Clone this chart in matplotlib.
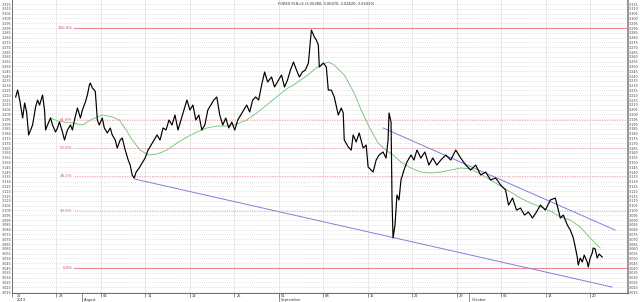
import matplotlib
matplotlib.use('Agg')
import matplotlib.pyplot as plt
import matplotlib.transforms as mtransforms
import numpy as np
import datetime as dt

# days counted from 2013-07-21 00:00
start_date = dt.date(2013, 7, 21)

day = [0.58, 0.89, 1.21, 1.68, 1.99, 2.30, 2.62, 2.93, 3.24, 3.71, 4.03, 4.34, 4.81, 5.12, 5.28,
       5.59, 6.06, 6.38, 6.85, 7.16, 7.47, 7.94, 8.26, 8.73, 9.20, 9.51, 9.83, 10.30, 10.77, 11.08,
       11.55, 11.86, 12.18, 12.33, 12.65, 12.96, 13.12, 13.43, 13.74, 14.21, 14.53, 15.00, 15.47,
       15.78, 16.25, 16.56, 17.03, 17.35, 17.82, 18.29, 18.60, 18.91, 19.23, 19.54, 20.01, 20.48,
       20.95, 21.42, 21.89, 22.36, 22.83, 23.30, 23.77, 24.24, 24.71, 25.18, 25.65, 26.12, 26.59,
       27.06, 27.53, 28.00, 28.47, 28.94, 29.41, 29.88, 30.35, 30.82, 31.29, 31.76, 32.23, 32.70,
       33.17, 33.64, 34.11, 34.59, 35.06, 35.53, 36.00, 36.47, 36.94, 37.41, 37.88, 38.35, 38.82,
       39.29, 39.76, 40.23, 40.85, 41.32, 41.95, 42.42, 42.89, 43.36, 43.83, 44.30, 44.77, 45.24,
       45.71, 46.18, 46.65, 47.12, 47.59, 47.90, 48.21, 48.37, 49.00, 49.47, 49.78, 50.25, 50.72,
       51.35, 51.82, 52.13, 52.29, 52.92, 53.39, 53.70, 54.17, 54.64, 55.27, 55.74, 56.05, 56.52,
       56.84, 57.31, 57.78, 58.40, 58.87, 59.19, 59.34, 59.66, 59.81, 59.97, 60.28, 60.59, 60.91,
       61.22, 61.69, 62.16, 62.79, 63.26, 63.73, 64.35, 64.98, 65.61, 66.23, 66.86, 67.49, 68.27,
       69.05, 69.84, 70.62, 71.41, 72.19, 72.98, 73.76, 74.54, 75.33, 76.11, 76.90, 77.68, 78.15,
       78.78, 79.41, 80.03, 80.66, 81.28, 81.91, 82.54, 83.16, 83.95, 84.73, 85.51, 85.98, 86.30,
       86.77, 87.40, 87.87, 88.18, 88.34, 88.65, 88.96, 89.12, 89.43, 89.75, 90.06, 90.53, 90.69,
       91.00, 91.32, 91.47, 91.79, 92.10, 92.41, 92.57, 92.88]

price = [3.2182, 3.2254, 3.2150, 3.1963, 3.2119, 3.2025, 3.1786, 3.1838, 3.1890, 3.2077, 3.2150,
         3.2098, 3.2202, 3.2046, 3.1838, 3.1890, 3.1963, 3.1890, 3.1817, 3.1859, 3.1921, 3.1817,
         3.1734, 3.1838, 3.1890, 3.1838, 3.1942, 3.2067, 3.1963, 3.2046, 3.2129, 3.2202, 3.2307,
         3.2327, 3.2275, 3.2254, 3.2234, 3.1942, 3.1890, 3.1963, 3.1859, 3.1807, 3.1859, 3.1786,
         3.1734, 3.1650, 3.1734, 3.1754, 3.1629, 3.1525, 3.1473, 3.1369, 3.1338, 3.1400, 3.1442,
         3.1494, 3.1546, 3.1629, 3.1681, 3.1734, 3.1786, 3.1734, 3.1859, 3.1838, 3.1942, 3.1890,
         3.1994, 3.1838, 3.1942, 3.2046, 3.2150, 3.2046, 3.2098, 3.1942, 3.1994, 3.1838, 3.1890,
         3.2046, 3.2098, 3.2150, 3.2182, 3.1994, 3.1890, 3.1963, 3.1859, 3.1921, 3.1838, 3.1942,
         3.1994, 3.2046, 3.2098, 3.2025, 3.2150, 3.2182, 3.2150, 3.2307, 3.2442, 3.2338, 3.2390,
         3.2286, 3.2359, 3.2411, 3.2286, 3.2359, 3.2463, 3.2546, 3.2463, 3.2390, 3.2442, 3.2463,
         3.2536, 3.2879, 3.2807, 3.2775, 3.2723, 3.2494, 3.2536, 3.2494, 3.2254, 3.2254, 3.2182,
         3.1994, 3.2067, 3.2015, 3.1734, 3.1661, 3.1629, 3.1786, 3.1713, 3.1807, 3.1650, 3.1681,
         3.1452, 3.1421, 3.1400, 3.1525, 3.1577, 3.1609, 3.1546, 3.1734, 3.2015, 3.1921, 3.1109,
         3.0713, 3.0848, 3.1161, 3.1109, 3.1317, 3.1421, 3.1504, 3.1577, 3.1525, 3.1629, 3.1546,
         3.1609, 3.1473, 3.1546, 3.1473, 3.1525, 3.1577, 3.1525, 3.1629, 3.1546, 3.1473, 3.1421,
         3.1473, 3.1369, 3.1400, 3.1317, 3.1338, 3.1265, 3.1213, 3.1056, 3.1129, 3.1004, 3.1025,
         3.0952, 3.0983, 3.0921, 3.0983, 3.1056, 3.1004, 3.1109, 3.1129, 3.1004, 3.0921, 3.0952,
         3.0848, 3.0796, 3.0744, 3.0713, 3.0619, 3.0515, 3.0431, 3.0504, 3.0463, 3.0535, 3.0463,
         3.0411, 3.0504, 3.0557, 3.0609, 3.0598, 3.0504, 3.0546, 3.0535, 3.0515]

ma_day = [6.06, 7.16, 8.26, 9.51, 11.08, 12.65, 14.21, 15.78, 16.88, 17.97, 18.91, 20.17, 21.42,
          22.83, 24.40, 25.97, 27.53, 29.10, 30.67, 32.23, 33.80, 35.37, 36.94, 38.50, 40.07,
          41.64, 43.20, 44.77, 46.34, 47.90, 49.00, 49.78, 50.72, 52.29, 53.86, 54.95, 56.21,
          57.62, 58.87, 59.97, 61.22, 62.79, 64.35, 65.92, 67.49, 69.05, 70.62, 72.19, 73.76,
          75.33, 76.90, 78.46, 80.03, 81.60, 83.16, 84.73, 86.30, 87.87, 89.43, 91.00, 92.57]
ma_price = [3.1963, 3.1932, 3.1921, 3.1911, 3.1890, 3.1952, 3.1994, 3.1973, 3.1942, 3.1838,
            3.1734, 3.1629, 3.1577, 3.1588, 3.1629, 3.1702, 3.1765, 3.1817, 3.1859, 3.1879,
            3.1879, 3.1900, 3.1942, 3.2015, 3.2098, 3.2182, 3.2265, 3.2327, 3.2400, 3.2484,
            3.2525, 3.2546, 3.2515, 3.2411, 3.2223, 3.2046, 3.1869, 3.1702, 3.1629, 3.1577,
            3.1504, 3.1442, 3.1400, 3.1390, 3.1400, 3.1421, 3.1442, 3.1432, 3.1379, 3.1317,
            3.1254, 3.1192, 3.1129, 3.1077, 3.1036, 3.0994, 3.0932, 3.0900, 3.0827, 3.0713,
            3.0609]

# trend lines (start, end)
lower_day = [19.23, 94.44]
lower_price = [3.1328, 3.0202]
upper_day = [58.40, 94.91]
upper_price = [3.1859, 3.0796]

# fibonacci retracement between low and high
fib_low = 3.040
fib_high = 3.290
fib_levels = [0.0, 23.6, 38.2, 50.0, 61.8, 100.0]
fib_start = 9.83

title = "FOREX PLN=X (3.05380, 3.06470, 3.04620, 3.05010)"

week_ticks = list(range(0, 92, 7))
month_starts = [11, 42, 72]
month_names = ['August', 'September', 'October']

fig = plt.figure(figsize=(6.4, 3.02), dpi=100)
ax = fig.add_axes([12/640, 9/302, 616/640, 293/302])
ax.set_xlim(0.42, 96.95)
ax.set_ylim(3.0140, 3.3192)

yt = np.arange(3.015, 3.3151, 0.005)
ax.set_yticks(yt)
ax.set_yticklabels(['%.3f' % v for v in yt], fontsize=2.4, color='#444444')
ax.tick_params(axis='y', which='both', left=True, right=True, labelleft=True, labelright=True,
               length=0, pad=0.8, labelcolor='#444444')
for v in yt:
    ax.axhline(v, color='#c8c8c8', lw=0.5, ls=(0, (1, 2)), zorder=0)

ax.set_xticks(week_ticks)
ax.set_xticklabels([])
ax.tick_params(axis='x', length=3, width=0.5, colors='#666666')
for d in week_ticks:
    ax.axvline(d, color='#e4e4e4', lw=0.6, zorder=0)

trans = mtransforms.blended_transform_factory(ax.transData, ax.transAxes)
for d in week_ticks:
    dd = max(d, 0.42)
    lbl = (start_date + dt.timedelta(days=d)).strftime('%d')
    ax.text(dd + 0.3, -0.0105, lbl, transform=trans, fontsize=2.6, ha='left', va='center',
            color='#333333', clip_on=False)
for d, name in zip(month_starts, month_names):
    ax.plot([d, d], [0, -0.03], transform=trans, color='#666666', lw=0.5, clip_on=False)
    ax.text(d + 0.3, -0.0245, name, transform=trans, fontsize=2.6, ha='left', va='center',
            color='#333333', clip_on=False)
ax.text(0.72, -0.0245, '2013', transform=trans, fontsize=2.6, ha='left', va='center',
        color='#333333', clip_on=False)

for lev in fib_levels:
    val = fib_low + (fib_high - fib_low) * lev / 100.0
    if lev in (0.0, 100.0):
        ax.plot([fib_start, 96.95], [val, val], color='#ee8595', lw=0.8, zorder=2)
    else:
        ax.plot([fib_start, 96.95], [val, val], color='#ee9aa6', lw=0.6,
                ls=(0, (1.5, 1.5)), zorder=2)
    ax.text(fib_start - 0.3, val, '%.1f%%' % lev, fontsize=2.8, color='#e05565',
            ha='right', va='center', zorder=3)

ax.plot(lower_day, lower_price, color='#8080e0', lw=0.7, zorder=3)
ax.plot(upper_day, upper_price, color='#8080e0', lw=0.7, zorder=3)
ax.plot(ma_day, ma_price, color='#70c070', lw=0.6, zorder=4)
ax.plot(day, price, color='black', lw=0.85, zorder=5)

ax.spines['top'].set_visible(False)
ax.spines['left'].set_color('#555555')
ax.spines['left'].set_linewidth(0.6)
ax.spines['right'].set_color('#999999')
ax.spines['right'].set_linewidth(1.5)
ax.spines['bottom'].set_color('#555555')
ax.spines['bottom'].set_linewidth(0.6)

fig.text(278/640, 1 - 4/302, title, fontsize=2.6, ha='left', va='center', color='#333333')

fig.savefig('out.png', dpi=100)
